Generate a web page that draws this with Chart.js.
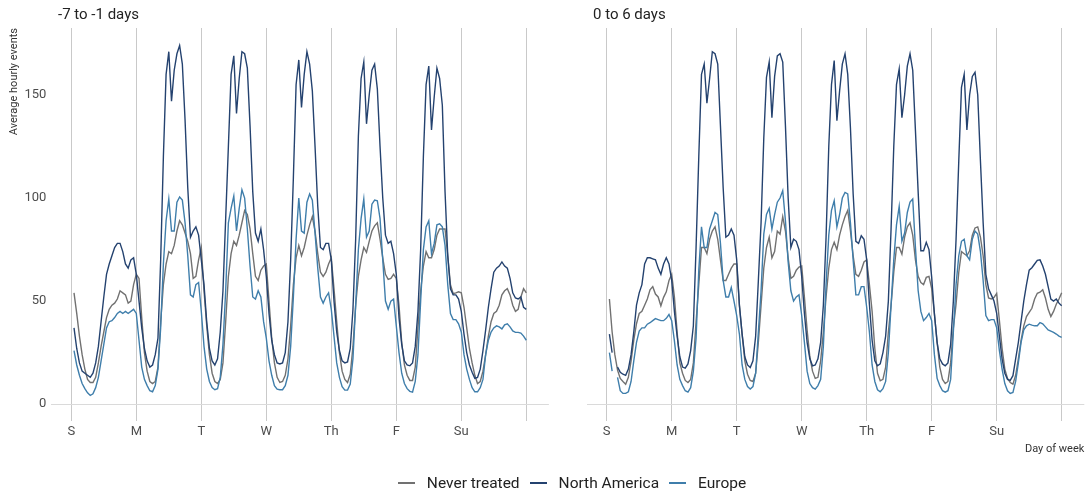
<!DOCTYPE html>
<html>
<head>
<meta charset="utf-8">
<script src="https://cdn.jsdelivr.net/npm/chart.js@4.4.1/dist/chart.umd.min.js"></script>
<style>
  html, body { margin: 0; padding: 0; background: #fff; }
  body { width: 1088px; height: 496px; position: relative; overflow: hidden; font-family: Roboto, "Noto Sans", sans-serif; }
  #c1 { position: absolute; left: 0; top: 0; }
  #c2 { position: absolute; left: 568px; top: 0; }
  .ptitle { position: absolute; top: 5px; font-size: 15px; color: #222; white-space: nowrap; }
  #legend { position: absolute; top: 474px; left: 0; width: 1144px; text-align: center; font-size: 15.5px; color: #222; white-space: nowrap; }
  #legend span.item { display: inline-block; margin: 0 5px; }
  #legend span.sw { display: inline-block; width: 17px; height: 2px; vertical-align: middle; margin-right: 12px; position: relative; top: -1px; }
</style>
</head>
<body>
<canvas id="c1" width="568" height="496"></canvas>
<canvas id="c2" width="520" height="496"></canvas>
<div class="ptitle" style="left:58px">-7 to -1 days</div>
<div class="ptitle" style="left:593px">0 to 6 days</div>
<div id="legend"></div>
<script>
// ---------- DATA (hour of week 1..168, one row of 24 per day) ----------
const dayLabels = ['S', 'M', 'T', 'W', 'Th', 'F', 'Su', ''];
const seriesNames = ['Never treated', 'North America', 'Europe'];
const panelTitles = ['-7 to -1 days', '0 to 6 days'];

const neverPre = [
  54, 44, 33, 24, 17, 12, 10.5, 10.5, 13, 20, 28, 35, 42, 46, 48, 49, 51, 55, 54, 53, 49, 50, 58, 63,
  61, 42, 25, 16, 11, 10, 11, 18, 40, 58, 68, 74, 73, 77, 84, 89, 87, 83, 79, 73, 61, 62, 70, 76,
  55, 38, 24, 15, 11, 10, 12, 20, 40, 62, 73, 79, 77, 82, 88, 94, 92, 85, 73, 62, 60, 65, 67, 68,
  50, 32, 20, 13, 10.5, 11, 14, 22, 38, 58, 71, 77, 72, 76, 82, 87, 91, 84, 73, 64, 62, 64, 68, 71,
  56, 40, 25, 16, 12, 10.5, 14.5, 28, 48, 62, 70, 76, 73.6, 79, 84, 86.5, 88, 80, 71, 63, 60.5, 61, 63, 61,
  48, 30, 19, 14, 11.5, 11.5, 18, 37, 55, 67, 74, 71, 71, 75, 82, 85, 85, 85, 72, 58, 53.6, 54, 54.5, 54,
  47, 37, 27, 20, 14, 10, 11, 16, 24, 33, 40, 44, 45, 48, 53, 55, 56, 53, 48, 45, 46, 52, 56, 54
];
const northAmericaPre = [
  37, 27, 20, 16, 15, 14, 13, 15, 20, 28, 40, 52, 63, 68, 72, 76, 78, 78, 74, 68, 66, 70, 71, 63,
  50, 37, 27, 21, 18, 19, 24, 32, 70, 120, 160, 171, 147, 162, 170, 174, 165, 138, 105, 81, 84, 86, 82, 70,
  58, 40, 27, 21, 19, 22, 35, 55, 90, 125, 160, 169, 141, 158, 171, 170, 163, 135, 103, 83, 79, 85, 75, 62,
  44, 31, 24, 20, 19.5, 20, 25, 40, 70, 110, 155, 167, 144, 160, 171, 165, 152, 125, 96, 76, 75, 78, 78, 70,
  50, 35, 26, 21, 20, 20.5, 27, 46, 80, 130, 158, 166, 136, 150, 162, 165, 153, 125, 100, 82, 78, 79, 73, 63,
  42, 29, 21, 19, 18.6, 20, 28, 45, 75, 120, 155, 164, 133, 149, 163, 158, 145, 103, 72, 56, 53, 53, 51, 45,
  34, 25, 19, 15.5, 12.5, 13, 17, 26, 36, 47, 56, 64, 66, 67, 69, 67, 66, 61, 54, 51.5, 51, 52, 47, 46
];
const europePre = [
  26, 19, 14, 10, 7.5, 5.5, 4.2, 5, 8, 13, 21, 29, 37, 40, 40.5, 42, 44, 45, 44, 45, 44, 45, 46, 44,
  31, 18, 12, 9, 6.5, 6, 9, 17, 37, 68, 89, 99.5, 84, 84, 98, 100.5, 99, 88, 72, 53, 52, 58, 59, 45,
  28, 17, 11, 8, 7, 7.5, 13, 29, 55, 88, 95, 101, 84, 95, 104, 100, 85, 67, 52, 51, 55, 52, 40, 32,
  21, 14, 9, 7.3, 7, 7, 9, 14, 28, 52, 80, 100, 84, 83, 98, 102, 99, 83, 66, 52, 49, 52, 54, 46,
  33, 20, 13, 8.5, 6.8, 6.8, 9.7, 22, 48, 75, 90, 99.5, 81, 84, 97, 99, 98.7, 90, 70, 50, 46, 50, 51, 38,
  25, 15, 10, 7.5, 6.2, 5.8, 11, 24, 50, 75, 86, 89, 73, 78, 87, 87.5, 86, 77, 58, 44, 41, 41, 39, 35,
  24, 17, 12, 8, 6, 6, 8, 12, 24, 31, 35, 37, 38, 37.5, 36.5, 38.5, 39, 37.5, 35.5, 34.8, 34.8, 34.5, 33, 31
];

const neverPost = [
  51, 35, 24, 16.5, 12.5, 11, 9.7, 13, 21, 31, 39, 44, 45, 48, 51, 55.5, 57, 53.4, 52, 47.7, 51.8, 54.5, 60, 63,
  52, 35, 20, 15, 11.5, 10.5, 12, 20, 40, 58, 76, 76, 73, 80, 84, 86, 80, 70, 60, 60, 63, 66, 68, 68,
  48, 34, 21, 14.5, 11.5, 11, 15, 30, 48, 66, 76, 81, 71, 74, 84, 82.5, 91, 84, 71, 61, 62, 65, 66.5, 67,
  52, 36, 23, 16, 12.5, 13, 21, 35, 52, 66, 75, 78.5, 75, 82, 87, 91, 94, 84, 72, 63, 62, 65, 69, 70,
  58, 45, 27, 15, 11.3, 12, 18, 35, 48, 64, 76, 76, 72.8, 81, 86, 88, 82, 70, 62, 59, 58, 61.5, 62, 56,
  44, 30, 18, 12, 10, 11, 20, 37, 48.5, 64, 74, 73, 72, 74.4, 82, 85.5, 86, 81, 72, 58, 51.5, 51, 51.8, 53.7,
  40.5, 27, 17, 12.5, 10.5, 9.7, 14, 22, 31, 38, 42.5, 44.5, 46.5, 51, 53.8, 54.3, 55.5, 51.5, 46, 42.5, 45, 48.5, 51, 54
];
const northAmericaPost = [
  34, 25, null, 18, 15.5, 14.5, 14, 17, 24, 35, 48, 54, 58, 68, 71, 71, 70.5, 70, 66, 63, 68, 71, 68, 60,
  45, 33, 23, 18, 17.5, 19.5, 26, 38, 76, 120, 160, 165, 146, 158, 171, 170, 165, 135, 105, 81, 82, 85, 82, 70,
  48, 34, 23, 19, 17.8, 21, 33, 60, 88, 129, 158.6, 166, 139, 159, 169, 170, 166, 135, 100, 76, 80, 79, 75, 62,
  44, 30, 22, 18.6, 19, 22, 30, 48, 81, 125, 155, 166.7, 137.5, 152, 165, 170, 160, 134, 102, 79, 78, 81.7, 80, 70,
  48.5, 31, 21, 18.6, 19.5, 25, 33, 50, 85, 125, 155, 162.6, 139, 150, 164, 170, 162, 132.7, 103, 74.4, 74.4, 78.5, 75, 61.5,
  43.7, 30, 22, 19.5, 18.6, 20, 29, 50, 80, 118, 153.7, 160, 133, 150, 159, 161, 150, 118, 88, 63, 56, 53, 50, 44,
  33, 22, 15, 12, 11.5, 13.8, 22, 30, 40, 50, 58, 65, 66.2, 68, 69.8, 70, 67, 63, 57, 51, 50, 51, 49, 47.7
];
const europePost = [
  25, 16, null, 13, 6.5, 5.2, 5.2, 6, 11, 21, 30, 35.5, 37, 37, 38.8, 39.5, 40.5, 41.5, 41, 40.5, 40.5, 41.6, 43.5, 40.5,
  30.7, 19, 12, 9, 6.5, 5.8, 8, 16, 32, 65, 86, 76, 76, 85, 89, 93, 92, 78, 60, 52, 52, 56.6, 50, 43,
  34, 19, 12, 8.5, 7.3, 8.5, 15, 35, 55, 82.5, 92, 95, 85, 92, 98, 100, 103.6, 89, 69, 55, 50, 52, 53, 43,
  30, 16, 10, 8, 7.3, 9, 12, 28, 58, 82, 94, 98.7, 86, 92, 100, 102.7, 102, 88, 70, 53, 53, 57, 57, 47,
  35, 19, 11, 7, 6, 7.5, 11, 25, 48, 70, 87, 96, 79, 83, 93, 98, 99.5, 76, 55, 45, 40.5, 42, 44, 40.5,
  24, 12.5, 9, 6.5, 5.8, 6.5, 12, 35, 58, 72, 79, 80, 72, 70, 80, 84, 82.5, 74, 60, 43, 40.5, 41, 41, 37,
  26, 17, 10, 6.5, 5.2, 5.7, 11, 20, 30, 36, 38, 38.8, 38.3, 38, 38, 39.6, 39, 37.5, 36, 35.4, 34.8, 34, 33, 32.4
];

const yTicks = [0, 50, 100, 150];
const xTicks = [0, 24, 48, 72, 96, 120, 144, 168];

// ---------- STYLE ----------
const colors = ['#717171', '#24426f', '#3f7eab'];
const FONT = 'Roboto, "Noto Sans", sans-serif';

function toXY(arr) { return arr.map((v, i) => ({ x: i + 1, y: v })); }

function makeDatasets(series) {
  return series.map((arr, k) => ({
    label: seriesNames[k],
    data: toXY(arr),
    borderColor: colors[k],
    backgroundColor: colors[k],
    borderWidth: 1.4,
    pointRadius: 0,
    tension: 0,
    spanGaps: false,
    order: k === 0 ? 3 : (k === 1 ? 1 : 2)
  }));
}

function xScale(showTitle) {
  return {
    type: 'linear',
    min: -7.35,
    max: 176.35,
    afterBuildTicks: s => { s.ticks = xTicks.map(v => ({ value: v })); },
    afterFit: s => { s.height = 43; },
    ticks: {
      autoSkip: false,
      maxRotation: 0,
      padding: 3,
      color: '#4d4d4d',
      font: { family: FONT, size: 13 },
      callback: v => dayLabels[xTicks.indexOf(v)]
    },
    grid: { color: '#c9c9c9', lineWidth: 1, tickLength: 8, drawTicks: true },
    border: { display: false },
    title: {
      display: showTitle,
      text: 'Day of week',
      align: 'end',
      color: '#333',
      font: { family: FONT, size: 11 },
      padding: { top: 0, bottom: 0 }
    }
  };
}

function yScale(show) {
  return {
    type: 'linear',
    display: true,
    min: -4.3,
    max: 182.5,
    afterBuildTicks: s => { s.ticks = yTicks.map(v => ({ value: v })); },
    afterFit: s => { s.width = show ? 51.4 : 0; },
    ticks: {
      display: show,
      padding: 5,
      color: '#4d4d4d',
      font: { family: FONT, size: 13 }
    },
    grid: {
      drawTicks: false,
      color: ctx => (ctx.tick && ctx.tick.value === 0) ? '#dadada' : 'rgba(0,0,0,0)',
      lineWidth: 1
    },
    border: { display: false },
    title: {
      display: show,
      text: 'Average hourly events',
      align: 'end',
      color: '#333',
      font: { family: FONT, size: 11 },
      padding: { top: 8, bottom: 0 }
    }
  };
}

function makeChart(id, series, isLeft) {
  return new Chart(document.getElementById(id), {
    type: 'line',
    data: { datasets: makeDatasets(series) },
    options: {
      responsive: false,
      animation: false,
      events: [],
      layout: { padding: isLeft ? { left: 0, right: 19.1, top: 28, bottom: 40 } : { left: 18.8, right: 3.7, top: 28, bottom: 40 } },
      plugins: { legend: { display: false }, tooltip: { enabled: false }, title: { display: false } },
      scales: {
        x: xScale(!isLeft),
        y: yScale(isLeft)
      }
    }
  });
}

makeChart('c1', [neverPre, northAmericaPre, europePre], true);
makeChart('c2', [neverPost, northAmericaPost, europePost], false);

// legend
const lg = document.getElementById('legend');
seriesNames.forEach((n, k) => {
  const it = document.createElement('span');
  it.className = 'item';
  const sw = document.createElement('span');
  sw.className = 'sw';
  sw.style.background = colors[k];
  it.appendChild(sw);
  it.appendChild(document.createTextNode(n));
  lg.appendChild(it);
});
</script>
</body>
</html>
